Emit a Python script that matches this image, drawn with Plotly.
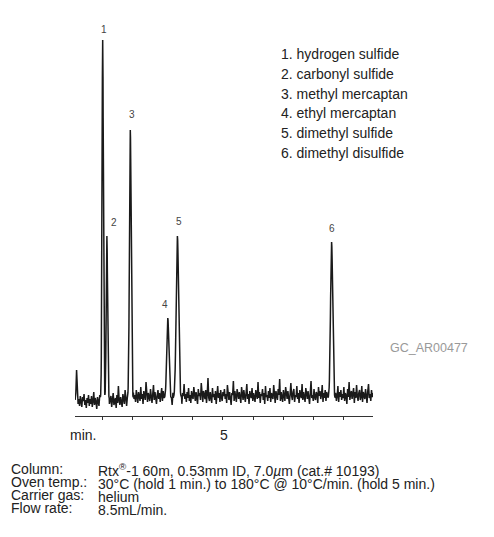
import numpy as np
import plotly.graph_objects as go

# ---------------- data ----------------
peak_labels = ["1", "2", "3", "4", "5", "6"]
peak_times = [0.99, 1.13, 1.91, 3.16, 3.48, 8.62]          # min
peak_heights = [358, 162, 268, 80, 162, 156]               # detector response (a.u.)
peak_sigmas = [0.022, 0.022, 0.028, 0.035, 0.040, 0.035]   # min

compounds = ["1. hydrogen sulfide", "2. carbonyl sulfide", "3. methyl mercaptan",
             "4. ethyl mercaptan", "5. dimethyl sulfide", "6. dimethyl disulfide"]

cond_labels = ["Column:", "Oven temp.:", "Carrier gas:", "Flow rate:"]
cond_values = ["Rtx<sup>®</sup>-1 60m, 0.53mm ID, 7.0<i>µ</i>m (cat.# 10193)",
               "30°C (hold 1 min.) to 180°C @ 10°C/min. (hold 5 min.)",
               "helium",
               "8.5mL/min."]

tick_minutes = [1, 2, 3, 4, 5, 6, 7, 8, 9]
labelled_minute = 5

# baseline noise (a.u.), evenly spaced from 0.07 to 10 min
baseline_noise = [
    -2, 5, 28, 3, -6, -1, -8, 2, -4, -9, 1, -3, 4, -7, -2, -10, 0, -5, 3, -8,
    -1, -6, 2, -9, -3, 6, -7, 0, -4, -11, 1, -2, -8, 3, -5, -1, -9, 4, -6, -3,
    7, -4, -8, 1, -2, 10, -6, -3, 2, -9, -1, 5, -7, -4, 0, -10, 3, -5, 12, -2,
    -7, 1, -4, -9, 4, -1, -6, 8, -3, -8, 0, -5, 14, -2, -7, 2, -4, -10, 5, -1,
    3, -4, 8, 0, -5, 6, 2, -3, 11, -1, 4, -6, 7, 1, -2, 16, 0, -4, 5, 2,
    -3, 9, 1, -5, 4, 13, -2, 6, 0, -6, 3, 8, -1, 5, -4, 2, 10, -3, 7, 1,
    -5, 4, 0, 12, -2, 6, 3, -4, 9, 1, -7, 5, 2, 18, -3, 4, 0, -5, 7, 3,
    -2, 8, 1, -6, 5, 2, 14, -1, 4, -4, 6, 0, 10, -3, 3, -5, 7, 2, -1, 11,
    4, -3, 6, 0, -6, 9, 2, 5, -2, 15, 1, -4, 7, 3, -1, 8, -5, 4, 20, 0,
    -3, 6, 2, -5, 10, 1, 4, -2, 7, -6, 3, 12, 0, 5, -4, 8, 1, -3, 6, 2,
    9, -1, 4, -5, 13, 2, -2, 6, 0, -7, 5, 3, 17, -3, 7, 1, -4, 9, 2, -1,
    6, 0, -5, 11, 3, -2, 8, 1, -4, 5, 14, -1, 4, -6, 7, 2, 0, 10, -3, 5,
    1, -4, 8, 3, -1, 16, 0, 6, -5, 4, 2, 9, -2, 5, -6, 12, 1, 3, -3, 7,
    0, 10, -4, 5, 2, -1, 13, 4, -5, 7, 1, -2, 9, 3, 19, -3, 6, 0, -4, 8,
    2, -3, 11, 5, -1, 7, 0, -6, 4, 15, 2, -2, 6, 9, -4, 3, 1, 12, -1, 5,
    -5, 8, 3, 0, 14, -2, 6, 1, -4, 10, 4, -1, 7, 2, -6, 5, 17, 0, 3, -3,
    9, 1, -2, 6, 4, -5, 11, 2, 7, -1, 3, 13, -4, 5, 0, 8, -3, 6, 2, 10,
    -2, 4, 15, 0, -5, 7, 3, -1, 9, 5, -3, 2, 12, -4, 6, 1, 8, -2, 4, 0,
    11, -3, 5, 2, -6, 9, 1, 16, -2, 4, 7, -1, 3, 10, -5, 6, 0, 13, 2, -3,
    5, 8, -2, 1, 12, -4, 6, 3, -1, 9, 2, -5, 7, 14, 0, 4, -3, 8, 1, 5,
]

# ---------------- build trace ----------------
t_start, t_end = 0.067, 10.0
t_noise = np.linspace(0.07, 10.0, len(baseline_noise))
noise = np.array(baseline_noise, dtype=float)

keep = np.ones(len(t_noise), dtype=bool)
fine_t = []
for tp, s in zip(peak_times, peak_sigmas):
    keep &= np.abs(t_noise - tp) > 3.5 * s
    fine_t.append(np.linspace(tp - 3.5 * s, tp + 3.5 * s, 31))
fine_t = np.concatenate(fine_t)

t_all = np.concatenate([t_noise[keep], fine_t])
n_all = np.concatenate([noise[keep], np.zeros(len(fine_t))])
order = np.argsort(t_all)
t_all = t_all[order]
n_all = n_all[order]

signal = n_all.copy()
for tp, h, s in zip(peak_times, peak_heights, peak_sigmas):
    signal += h * np.exp(-0.5 * ((t_all - tp) / s) ** 2)

fig = go.Figure()
fig.add_trace(go.Scatter(x=t_all, y=signal, mode="lines",
                         line=dict(color="#1a1a1a", width=1.5),
                         hoverinfo="skip", showlegend=False))

FONT = "Liberation Sans, Arial, sans-serif"
W, H = 494, 537
ML, MR, MT, MB = 75, 121, 10, 121
PW, PH = W - ML - MR, H - MT - MB


def px(x):
    return (x - ML) / PW


def py(y):
    return (H - MB - y) / PH


ann = []
# peak numbers
label_dx = [1, 7, 2, -3, 2, 0]
label_dy = [11, 14, 16, 14, 15, 14]
for lab, tp, h, dx, dy in zip(peak_labels, peak_times, peak_heights, label_dx, label_dy):
    ann.append(dict(x=tp, y=h, xref="x", yref="y", text=lab, showarrow=False,
                    xshift=dx, yshift=dy, xanchor="center", yanchor="middle",
                    font=dict(family=FONT, size=10, color="#444")))

# compound list
for i, c in enumerate(compounds):
    ann.append(dict(x=px(279), y=py(54.3 + i * 19.7), xref="paper", yref="paper",
                    text=c, showarrow=False, xanchor="left", yanchor="middle",
                    font=dict(family=FONT, size=14, color="#222")))

# chromatogram id
ann.append(dict(x=px(428.5), y=py(347.5), xref="paper", yref="paper",
                text="GC_AR00477", showarrow=False, xanchor="center", yanchor="middle",
                font=dict(family=FONT, size=12.5, color="#999")))

# axis labels
ann.append(dict(x=px(82.5), y=py(435), xref="paper", yref="paper", text="min.",
                showarrow=False, xanchor="center", yanchor="middle",
                font=dict(family=FONT, size=14, color="#222")))
ann.append(dict(x=labelled_minute, y=py(435), xref="x", yref="paper",
                text=str(labelled_minute), showarrow=False, xshift=1,
                xanchor="center", yanchor="middle",
                font=dict(family=FONT, size=14, color="#222")))

# conditions: one block per column; base size 10 gives 13 px line pitch,
# glyphs drawn at 14 px through span styling
def block(lines):
    return "<br>".join('<span style="font-size:14px">%s</span>' % s for s in lines)


ann.append(dict(x=px(10), y=py(460), xref="paper", yref="paper",
                text=block(cond_labels), showarrow=False, align="left",
                xanchor="left", yanchor="top", borderpad=0,
                font=dict(family=FONT, size=10, color="#222")))
ann.append(dict(x=px(97), y=py(460), xref="paper", yref="paper",
                text=block(cond_values), showarrow=False, align="left",
                xanchor="left", yanchor="top", borderpad=0,
                font=dict(family=FONT, size=10, color="#222")))

fig.update_layout(
    width=W, height=H,
    margin=dict(l=ML, r=MR, t=MT, b=MB, pad=0),
    paper_bgcolor="white", plot_bgcolor="white",
    annotations=ann,
    xaxis=dict(range=[t_start, t_end], showgrid=False, zeroline=False,
               showline=True, linecolor="#333", linewidth=1,
               ticks="outside", ticklen=3, tickwidth=1, tickcolor="#333",
               tickvals=tick_minutes, showticklabels=False),
    yaxis=dict(range=[-18, 388], visible=False, showgrid=False, zeroline=False),
)

fig.write_html("out.html", config={"displayModeBar": False},
               post_script="document.body.style.margin='0';document.body.style.padding='0';")
